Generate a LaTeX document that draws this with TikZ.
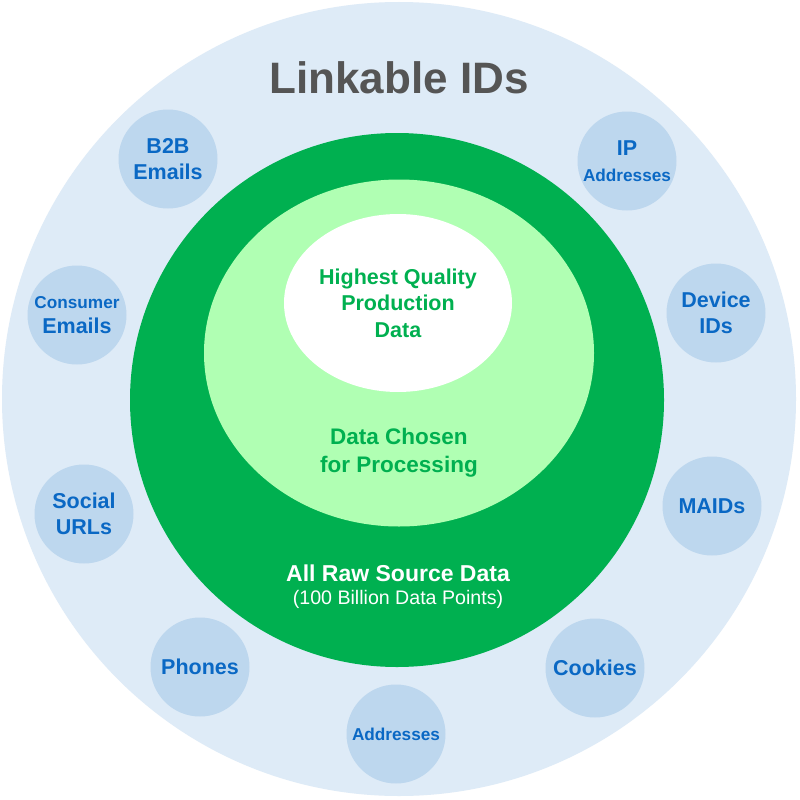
\documentclass[tikz,border=0pt]{standalone}
\usepackage{fontspec}
\setmainfont{Liberation Sans}
\usepackage{tikz}
\usetikzlibrary{shapes}

\definecolor{outerBlue}{HTML}{DEEBF7}
\definecolor{bubbleBlue}{HTML}{BDD7EE}
\definecolor{labelBlue}{HTML}{0A68C4}
\definecolor{rawGreen}{HTML}{00B050}
\definecolor{chosenGreen}{HTML}{B0FFB3}
\definecolor{titleGray}{HTML}{555555}

\newcommand{\smallLabel}[1]{{\fontsize{17.2}{21}\selectfont #1}}

\begin{document}
\begin{tikzpicture}
  [x=1pt,y=-1pt,
   idBubble/.style={circle,fill=bubbleBlue,minimum size=99pt,inner sep=0pt,align=center,
     text=labelBlue,font=\bfseries\fontsize{21.5}{26}\selectfont},
   greenLabel/.style={align=center,text=rawGreen,inner sep=0pt,font=\bfseries\fontsize{21.5}{26.5}\selectfont}]
  \fill[white] (0,0) rectangle (800,800);
  \useasboundingbox (0,0) rectangle (800,800);
  % outer ring of ids
  \node[circle,fill=outerBlue,minimum size=794pt,inner sep=0pt] (linkable) at (399,399) {};
  \node[text=titleGray,font=\bfseries\fontsize{44}{50}\selectfont,inner sep=0pt] (title) at (399,78) {Linkable IDs};
  \node[idBubble] (b2b) at (168,159) {B2B\\Emails};
  \node[idBubble] (ip) at (627,161) {IP\\\smallLabel{Addresses}};
  \node[idBubble,font=\bfseries\fontsize{21.5}{25}\selectfont] (consumer) at (77,315) {\smallLabel{Consumer}\\Emails};
  \node[idBubble] (device) at (716,313) {Device\\IDs};
  \node[idBubble] (social) at (84,514) {Social\\URLs};
  \node[idBubble] (maids) at (712,506) {MAIDs};
  \node[idBubble] (phones) at (200,667) {Phones};
  \node[idBubble] (cookies) at (595,668) {Cookies};
  \node[idBubble] (addresses) at (396,734) {\smallLabel{Addresses}};
  % nested data sets
  \node[circle,fill=rawGreen,minimum size=534pt,inner sep=0pt] (raw) at (397,400) {};
  \node[ellipse,fill=chosenGreen,minimum width=390pt,minimum height=347pt,inner sep=0pt] (chosen) at (399,353) {};
  \node[ellipse,fill=white,minimum width=228pt,minimum height=178pt,inner sep=0pt,greenLabel] (quality) at (398,303) {Highest Quality\\Production\\Data};
  \node[greenLabel,font=\bfseries\fontsize{22.5}{28}\selectfont] (chosenText) at (399,453) {Data Chosen\\for Processing};
  \node[align=center,text=white,inner sep=0pt,font=\fontsize{19.6}{23}\selectfont] (rawText) at (398,587)
    {{\bfseries\fontsize{23}{23}\selectfont All Raw Source Data}\\(100 Billion Data Points)};
\end{tikzpicture}
\end{document}
